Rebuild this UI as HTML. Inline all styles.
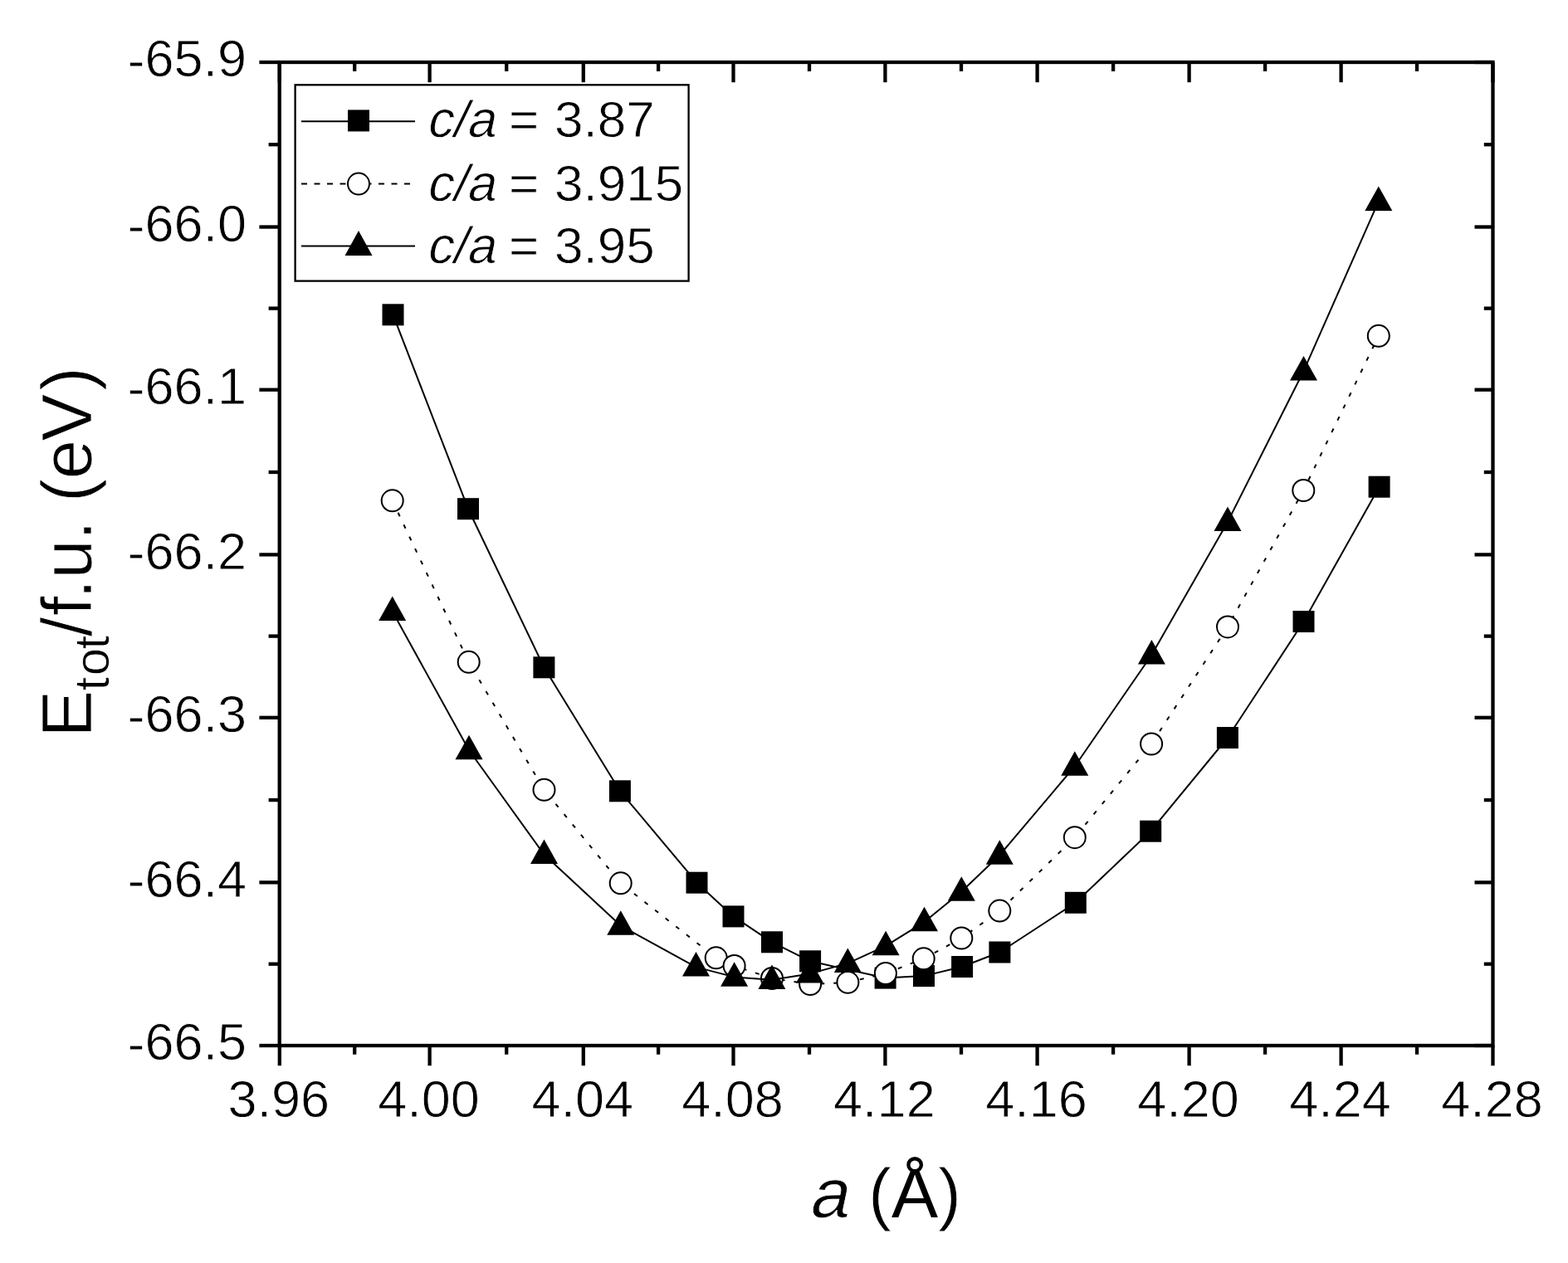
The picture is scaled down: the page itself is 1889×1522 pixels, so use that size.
<!DOCTYPE html>
<html><head><meta charset="utf-8"><title>E_tot vs a</title>
<style>html,body{margin:0;padding:0;background:#fff;}svg{display:block;}text{font-family:"Liberation Sans",Arial,sans-serif;fill:#000;stroke:#fff;stroke-width:0.8px;}</style></head><body>
<svg width="1889" height="1522" viewBox="0 0 1889 1522">
<rect x="0" y="0" width="1889" height="1522" fill="#fff"/>
<polyline fill="none" stroke="#000" stroke-width="2" stroke-linejoin="round" points="473.5,379.3 564,613.2 655.4,804.3 746.9,953.3 839.5,1063.7 883.5,1104.4 930,1135.3 976.1,1158.3 1066.6,1178.6 1113,1176.1 1159.1,1165 1204.4,1147.5 1295.8,1087.8 1386.2,1001.7 1478.9,889 1570.5,749 1661.6,586.7"/>
<g fill="#000">
<rect x="460.5" y="366.3" width="26" height="26"/>
<rect x="551" y="600.2" width="26" height="26"/>
<rect x="642.4" y="791.3" width="26" height="26"/>
<rect x="733.9" y="940.3" width="26" height="26"/>
<rect x="826.5" y="1050.7" width="26" height="26"/>
<rect x="870.5" y="1091.4" width="26" height="26"/>
<rect x="917" y="1122.3" width="26" height="26"/>
<rect x="963.1" y="1145.3" width="26" height="26"/>
<rect x="1053.6" y="1165.6" width="26" height="26"/>
<rect x="1100" y="1163.1" width="26" height="26"/>
<rect x="1146.1" y="1152" width="26" height="26"/>
<rect x="1191.4" y="1134.5" width="26" height="26"/>
<rect x="1282.8" y="1074.8" width="26" height="26"/>
<rect x="1373.2" y="988.7" width="26" height="26"/>
<rect x="1465.9" y="876" width="26" height="26"/>
<rect x="1557.5" y="736" width="26" height="26"/>
<rect x="1648.6" y="573.7" width="26" height="26"/>
</g>
<polyline fill="none" stroke="#000" stroke-width="2" stroke-linejoin="round" points="472.7,603.3 564.7,797.8 655.5,951.8 747.7,1064.3 862.7,1154.3 884.6,1164 930,1179 976.1,1186 1021.4,1183.8 1066.9,1173 1112.7,1155.3 1158.3,1130.5 1204.3,1097.6 1294.8,1009.2 1387.1,896.5 1479,755.4 1570.3,591 1660.8,404.8" stroke-dasharray="5 11"/>
<g fill="#fff" stroke="#000" stroke-width="2">
<circle cx="472.7" cy="603.3" r="13"/>
<circle cx="564.7" cy="797.8" r="13"/>
<circle cx="655.5" cy="951.8" r="13"/>
<circle cx="747.7" cy="1064.3" r="13"/>
<circle cx="862.7" cy="1154.3" r="13"/>
<circle cx="884.6" cy="1164" r="13"/>
<circle cx="930" cy="1179" r="13"/>
<circle cx="976.1" cy="1186" r="13"/>
<circle cx="1021.4" cy="1183.8" r="13"/>
<circle cx="1066.9" cy="1173" r="13"/>
<circle cx="1112.7" cy="1155.3" r="13"/>
<circle cx="1158.3" cy="1130.5" r="13"/>
<circle cx="1204.3" cy="1097.6" r="13"/>
<circle cx="1294.8" cy="1009.2" r="13"/>
<circle cx="1387.1" cy="896.5" r="13"/>
<circle cx="1479" cy="755.4" r="13"/>
<circle cx="1570.3" cy="591" r="13"/>
<circle cx="1660.8" cy="404.8" r="13"/>
</g>
<polyline fill="none" stroke="#000" stroke-width="2" stroke-linejoin="round" points="472.7,736.8 565,904 655.5,1029.8 747.8,1115.6 838.5,1165.4 884.6,1177.4 929.9,1180.7 975.5,1173.4 1021.3,1160.9 1067.1,1139.9 1113.5,1111.1 1158.3,1074.5 1204.3,1030.5 1294.8,923.5 1387.4,789.2 1479,628.9 1570.5,447.2 1660.8,242.6"/>
<g fill="#000">
<polygon points="472.7,718.5 489.2,748 456.2,748"/>
<polygon points="565,885.7 581.5,915.2 548.5,915.2"/>
<polygon points="655.5,1011.5 672,1041 639,1041"/>
<polygon points="747.8,1097.3 764.3,1126.8 731.3,1126.8"/>
<polygon points="838.5,1147.1 855,1176.6 822,1176.6"/>
<polygon points="884.6,1159.2 901.1,1188.7 868.1,1188.7"/>
<polygon points="929.9,1162.5 946.4,1192 913.4,1192"/>
<polygon points="975.5,1155.1 992,1184.6 959,1184.6"/>
<polygon points="1021.3,1142.6 1037.8,1172.1 1004.8,1172.1"/>
<polygon points="1067.1,1121.7 1083.6,1151.2 1050.6,1151.2"/>
<polygon points="1113.5,1092.8 1130,1122.3 1097,1122.3"/>
<polygon points="1158.3,1056.2 1174.8,1085.8 1141.8,1085.8"/>
<polygon points="1204.3,1012.2 1220.8,1041.8 1187.8,1041.8"/>
<polygon points="1294.8,905.2 1311.3,934.8 1278.3,934.8"/>
<polygon points="1387.4,771 1403.9,800.5 1370.9,800.5"/>
<polygon points="1479,610.6 1495.5,640.1 1462.5,640.1"/>
<polygon points="1570.5,428.9 1587,458.4 1554,458.4"/>
<polygon points="1660.8,224.4 1677.3,253.9 1644.3,253.9"/>
</g>
<g stroke="#000" stroke-width="4.3" fill="none" stroke-linecap="square">
<rect x="336.7" y="75.0" width="1461.8" height="1185"/>
</g>
<g stroke="#000" stroke-width="4.3" fill="none">
<line x1="336.8" y1="1260" x2="336.8" y2="1284.2"/>
<line x1="336.8" y1="75" x2="336.8" y2="99.2"/>
<line x1="517.6" y1="1260" x2="517.6" y2="1284.2"/>
<line x1="517.6" y1="75" x2="517.6" y2="99.2"/>
<line x1="702.8" y1="1260" x2="702.8" y2="1284.2"/>
<line x1="702.8" y1="75" x2="702.8" y2="99.2"/>
<line x1="883.5" y1="1260" x2="883.5" y2="1284.2"/>
<line x1="883.5" y1="75" x2="883.5" y2="99.2"/>
<line x1="1066.4" y1="1260" x2="1066.4" y2="1284.2"/>
<line x1="1066.4" y1="75" x2="1066.4" y2="99.2"/>
<line x1="1249.6" y1="1260" x2="1249.6" y2="1284.2"/>
<line x1="1249.6" y1="75" x2="1249.6" y2="99.2"/>
<line x1="1432.6" y1="1260" x2="1432.6" y2="1284.2"/>
<line x1="1432.6" y1="75" x2="1432.6" y2="99.2"/>
<line x1="1615.6" y1="1260" x2="1615.6" y2="1284.2"/>
<line x1="1615.6" y1="75" x2="1615.6" y2="99.2"/>
<line x1="1798.5" y1="1260" x2="1798.5" y2="1284.2"/>
<line x1="1798.5" y1="75" x2="1798.5" y2="99.2"/>
<line x1="427.2" y1="1260" x2="427.2" y2="1270.7"/>
<line x1="427.2" y1="75" x2="427.2" y2="85.9"/>
<line x1="610.2" y1="1260" x2="610.2" y2="1270.7"/>
<line x1="610.2" y1="75" x2="610.2" y2="85.9"/>
<line x1="793.1" y1="1260" x2="793.1" y2="1270.7"/>
<line x1="793.1" y1="75" x2="793.1" y2="85.9"/>
<line x1="975" y1="1260" x2="975" y2="1270.7"/>
<line x1="975" y1="75" x2="975" y2="85.9"/>
<line x1="1158" y1="1260" x2="1158" y2="1270.7"/>
<line x1="1158" y1="75" x2="1158" y2="85.9"/>
<line x1="1341.1" y1="1260" x2="1341.1" y2="1270.7"/>
<line x1="1341.1" y1="75" x2="1341.1" y2="85.9"/>
<line x1="1524.1" y1="1260" x2="1524.1" y2="1270.7"/>
<line x1="1524.1" y1="75" x2="1524.1" y2="85.9"/>
<line x1="1707" y1="1260" x2="1707" y2="1270.7"/>
<line x1="1707" y1="75" x2="1707" y2="85.9"/>
<line x1="336.7" y1="75" x2="312.4" y2="75"/>
<line x1="1798.5" y1="75" x2="1776.5" y2="75"/>
<line x1="336.7" y1="273.5" x2="312.4" y2="273.5"/>
<line x1="1798.5" y1="273.5" x2="1776.5" y2="273.5"/>
<line x1="336.7" y1="469.7" x2="312.4" y2="469.7"/>
<line x1="1798.5" y1="469.7" x2="1776.5" y2="469.7"/>
<line x1="336.7" y1="668.4" x2="312.4" y2="668.4"/>
<line x1="1798.5" y1="668.4" x2="1776.5" y2="668.4"/>
<line x1="336.7" y1="864.8" x2="312.4" y2="864.8"/>
<line x1="1798.5" y1="864.8" x2="1776.5" y2="864.8"/>
<line x1="336.7" y1="1063.4" x2="312.4" y2="1063.4"/>
<line x1="1798.5" y1="1063.4" x2="1776.5" y2="1063.4"/>
<line x1="336.7" y1="1260" x2="312.4" y2="1260"/>
<line x1="1798.5" y1="1260" x2="1776.5" y2="1260"/>
<line x1="336.7" y1="174.2" x2="323.6" y2="174.2"/>
<line x1="1798.5" y1="174.2" x2="1787.8" y2="174.2"/>
<line x1="336.7" y1="371.6" x2="323.6" y2="371.6"/>
<line x1="1798.5" y1="371.6" x2="1787.8" y2="371.6"/>
<line x1="336.7" y1="569" x2="323.6" y2="569"/>
<line x1="1798.5" y1="569" x2="1787.8" y2="569"/>
<line x1="336.7" y1="766.6" x2="323.6" y2="766.6"/>
<line x1="1798.5" y1="766.6" x2="1787.8" y2="766.6"/>
<line x1="336.7" y1="964.1" x2="323.6" y2="964.1"/>
<line x1="1798.5" y1="964.1" x2="1787.8" y2="964.1"/>
<line x1="336.7" y1="1161.7" x2="323.6" y2="1161.7"/>
<line x1="1798.5" y1="1161.7" x2="1787.8" y2="1161.7"/>
</g>
<g font-size="63" text-anchor="middle">
<text x="335.8" y="1345.5">3.96</text>
<text x="516.6" y="1345.5">4.00</text>
<text x="701.8" y="1345.5">4.04</text>
<text x="882.5" y="1345.5">4.08</text>
<text x="1065.4" y="1345.5">4.12</text>
<text x="1248.6" y="1345.5">4.16</text>
<text x="1431.6" y="1345.5">4.20</text>
<text x="1614.6" y="1345.5">4.24</text>
<text x="1797.5" y="1345.5">4.28</text>
</g>
<g font-size="63" text-anchor="end">
<text x="297" y="92.2"><tspan dy="1.8">-</tspan><tspan dy="-1.8">65.9</tspan></text>
<text x="297" y="290.7"><tspan dy="1.8">-</tspan><tspan dy="-1.8">66.0</tspan></text>
<text x="297" y="486.9"><tspan dy="1.8">-</tspan><tspan dy="-1.8">66.1</tspan></text>
<text x="297" y="685.6"><tspan dy="1.8">-</tspan><tspan dy="-1.8">66.2</tspan></text>
<text x="297" y="882"><tspan dy="1.8">-</tspan><tspan dy="-1.8">66.3</tspan></text>
<text x="297" y="1080.6"><tspan dy="1.8">-</tspan><tspan dy="-1.8">66.4</tspan></text>
<text x="297" y="1277.2"><tspan dy="1.8">-</tspan><tspan dy="-1.8">66.5</tspan></text>
</g>
<text transform="translate(973.5,1466.8) skewX(-12)" x="0" y="0" font-size="84">a</text>
<text x="1046" y="1466.8" font-size="84">(<tspan style="stroke:none">Å</tspan>)</text>
<text transform="translate(109.5,886) rotate(-90)" font-size="85"><tspan x="-2.4">E</tspan><tspan font-size="60" y="21" x="53.5 71.8 103.6">tot</tspan><tspan y="0" x="118.7 143.9 164.2 188.55 235.1 257.9 280.9 308.66 354.6 415.3">/f.u. (eV)</tspan></text>
<rect x="355.6" y="102.3" width="474" height="236.3" fill="#fff" stroke="#000" stroke-width="2.3"/>
<line x1="363" y1="146.2" x2="500" y2="146.2" stroke="#000" stroke-width="2"/>
<rect x="419" y="132.4" width="26" height="26" fill="#000"/>
<line x1="363" y1="221.6" x2="500" y2="221.6" stroke="#000" stroke-width="2" stroke-dasharray="7 8.5"/>
<circle cx="432" cy="221.6" r="13" fill="#fff" stroke="#000" stroke-width="2"/>
<line x1="363" y1="296.5" x2="500" y2="296.5" stroke="#000" stroke-width="2"/>
<polygon points="432,278 448.5,308 415.5,308" fill="#000"/>
<text transform="translate(513,164.5) skewX(-12)" x="0" y="0" font-size="62">c/a</text>
<text x="613" y="164.5" font-size="62">=</text>
<text x="668" y="164.5" font-size="62">3.87</text>
<text transform="translate(513,242.2) skewX(-12)" x="0" y="0" font-size="62">c/a</text>
<text x="613" y="242.2" font-size="62">=</text>
<text x="668" y="242.2" font-size="62">3.915</text>
<text transform="translate(513,316.8) skewX(-12)" x="0" y="0" font-size="62">c/a</text>
<text x="613" y="316.8" font-size="62">=</text>
<text x="668" y="316.8" font-size="62">3.95</text>
</svg></body></html>
